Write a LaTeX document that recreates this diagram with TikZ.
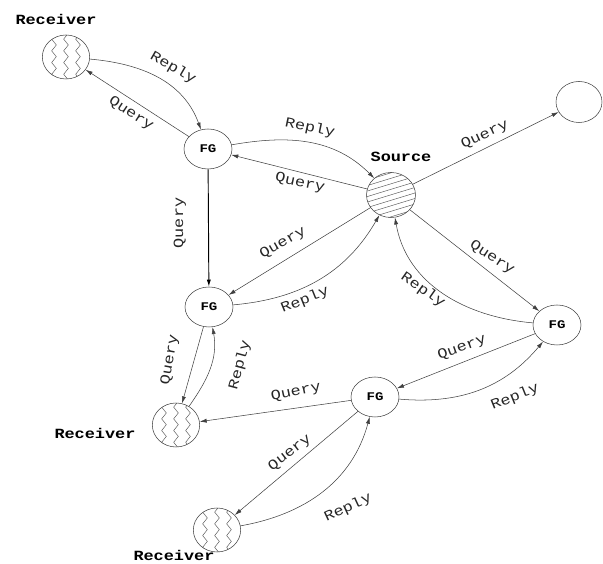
\documentclass[tikz,border=0pt]{standalone}
\usepackage{fontspec}
\newfontfamily\ttlbl[FakeStretch=1.2]{Liberation Mono}
\usetikzlibrary{arrows.meta,shapes.geometric,decorations.pathmorphing}

\tikzset{
  msg/.style={draw=black!75,line width=.45pt,-{Latex[length=6pt,width=3.5pt]}},
  lbl/.style={font={\ttlbl\fontsize{12}{13}\selectfont},inner sep=0pt,text=black!85},
  tag/.style={font={\ttlbl\fontsize{12}{13}\selectfont\bfseries},inner sep=0pt},
  fg/.style={ellipse,draw=black!75,line width=.45pt,minimum width=1.44cm,minimum height=1.2cm,
    inner sep=0pt,font={\ttlbl\fontsize{10}{11}\selectfont\bfseries}},
  recv/.style={ellipse,draw=black!75,line width=.45pt,minimum width=1.42cm,minimum height=1.32cm,
    path picture={
      \foreach \dx in {-0.36,0,0.36}
        \draw[black!65,line width=.4pt,decorate,decoration={zigzag,amplitude=2pt,segment length=10pt}]
          ([xshift=\dx cm,yshift=0.8cm]path picture bounding box.center) -- ++(0,-1.6cm);
    }},
  source/.style={ellipse,draw=black!75,line width=.45pt,minimum width=1.47cm,minimum height=1.35cm,
    path picture={
      \foreach \k in {-9,...,9}
        \draw[black!65,line width=.4pt]
          ([shift={(-1cm,{\k*0.165cm-0.3cm})}]path picture bounding box.center) -- ++(17:2.1cm);
    }},
}

\begin{document}
\begin{tikzpicture}[x=0.03cm,y=0.03cm]
\useasboundingbox (0,0) rectangle (603,564);

% hosts
\node[recv] (r1) at (66,507) {};
\node[fg] (fg1) at (208,415) {FG};
\node[source] (src) at (391,369) {};
\node[ellipse,draw=black!75,line width=.45pt,minimum width=1.38cm,minimum height=1.23cm] (far) at (579,462) {};
\node[fg] (fg2) at (209,257) {FG};
\node[fg] (fg3) at (557,239) {FG};
\node[fg] (fg4) at (375,167) {FG};
\node[recv] (r2) at (176,139) {};
\node[recv] (r3) at (217,34) {};

\node[tag] (r1tag) at (56,545) {Receiver};
\node[tag] (srctag) at (401,407) {Source};
\node[tag] (r2tag) at (95,131) {Receiver};
\node[tag] (r3tag) at (174,9) {Receiver};

% messages
\draw[msg] (r1) to[out=-5,in=110] (fg1);
\draw[msg] (fg1) -- (r1);
\draw[msg] (fg1) to[out=10,in=135] (src);
\draw[msg] (src) -- (fg1);
\draw[msg,draw=black,line width=.8pt] (fg1) -- (fg2);
\draw[msg] (src) -- (fg2);
\draw[msg] (fg2) to[out=5,in=-120] (src);
\draw[msg] (src) -- (far);
\draw[msg] (src) -- (fg3);
\draw[msg] (fg3) to[out=175,in=-80] (src);
\draw[msg] (fg3) -- (fg4);
\draw[msg] (fg4) to[out=-5,in=-130] (fg3);
\draw[msg] (fg2) -- (r2);
\draw[msg] (r2) to[out=55,in=-80] (fg2);
\draw[msg] (fg4) -- (r2);
\draw[msg] (fg4) -- (r3);
\draw[msg] (r3) to[out=10,in=-105] (fg4);

% message labels
\node[lbl,rotate=-30] (rp1) at (173,496) {Reply};
\node[lbl,rotate=-33] (qr1) at (131,450) {Query};
\node[lbl,rotate=-12] (rp2) at (310,436) {Reply};
\node[lbl,rotate=-12] (qr2) at (300,381) {Query};
\node[lbl,rotate=90] (qr3) at (180,341) {Query};
\node[lbl,rotate=30] (qr4) at (283,321) {Query};
\node[lbl,rotate=22] (rp4) at (305,264) {Reply};
\node[lbl,rotate=25] (qr5) at (485,429) {Query};
\node[lbl,rotate=-33] (qr6) at (492,306) {Query};
\node[lbl,rotate=-35] (rp6) at (423,274) {Reply};
\node[lbl,rotate=20] (qr7) at (462,216) {Query};
\node[lbl,rotate=22] (rp7) at (515,167) {Reply};
\node[lbl,rotate=80] (qr8) at (170,204) {Query};
\node[lbl,rotate=75] (rp8) at (240,199) {Reply};
\node[lbl,rotate=12] (qr9) at (296,172) {Query};
\node[lbl,rotate=38] (qr10) at (290,111) {Query};
\node[lbl,rotate=25] (rp10) at (348,56) {Reply};
\end{tikzpicture}
\end{document}
